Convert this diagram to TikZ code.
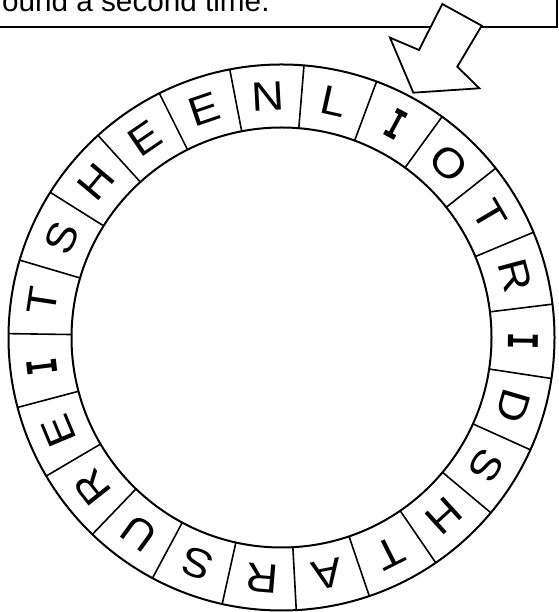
\documentclass[tikz,border=0pt]{standalone}
\usepackage{fontspec}
\setmainfont{Liberation Sans}
\newfontfamily\serifIfont{DejaVu Sans Mono}
\newcommand\serifI{\scalebox{0.62}[1]{\serifIfont\bfseries I}}
\newcommand\widen[1]{\scalebox{1.1}[1]{#1}}
\usetikzlibrary{calc}
\tikzset{
  ring/.style={line width=2pt},
  divider/.style={line width=1.6pt},
  letter/.style={inner sep=0pt, font=\fontsize{41}{42}\selectfont},
  boxline/.style={line width=2pt},
  bigarrow/.style={line width=1.8pt, fill=white, line join=miter}
}
\begin{document}
\begin{tikzpicture}[x=1pt,y=1pt]
\useasboundingbox (0,0) rectangle (558,612);
\clip (0,0) rectangle (558,612);
\node[anchor=base west, inner sep=0pt, font=\fontsize{29.7}{33}\selectfont] (caption) at (-8,600.3) {round a second time.};
\coordinate (boxbl) at (-10,585);
\coordinate (boxtr) at (556.5,620);
\draw[boxline] (boxbl) -| (boxtr);
\coordinate (a1) at (442.3,608);
\coordinate (a2) at (481.7,586.3);
\coordinate (a3) at (457.3,545.3);
\coordinate (a4) at (479.3,523.7);
\coordinate (a5) at (413.3,519.3);
\coordinate (a6) at (390,574.3);
\coordinate (a7) at (419,562);
\draw[bigarrow] (a1) -- (a2) -- (a3) -- (a4) -- (a5) -- (a6) -- (a7) -- cycle;
\coordinate (c) at (281.5,274.5);
\draw[ring] (c) circle[radius=273];
\draw[ring] (c) circle[radius=210];
\foreach \k/\L in {0/N,1/L,2/\serifI,3/O,4/T,5/R,6/\serifI,7/D,8/S,9/H,10/T,11/A,12/R,13/S,14/U,15/R,16/E,17/\serifI,18/T,19/S,20/H,21/E,22/E}{
  \pgfmathsetmacro\ang{93.1-15.652*\k}
  \pgfmathsetmacro\dang{\ang+7.826}
  \pgfmathsetmacro\rot{\ang-90}
  \draw[divider] ($(c)+(\dang:210)$) -- ($(c)+(\dang:273)$);
  \node[letter, rotate=\rot] (l\k) at ($(c)+(\ang:241.5)$) {\widen{\L}};
}
\end{tikzpicture}
\end{document}
